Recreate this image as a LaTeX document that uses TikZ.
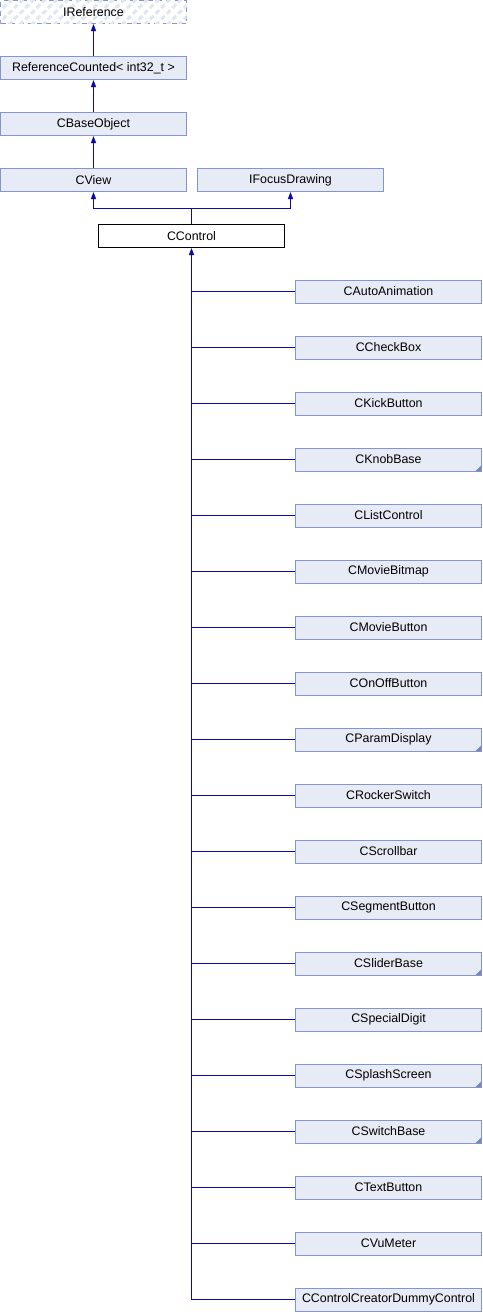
\documentclass[tikz,border=0pt]{standalone}
\usepackage{fontspec}
\setmainfont{Liberation Sans}
\usetikzlibrary{arrows.meta,patterns.meta}
\definecolor{boxfill}{HTML}{E7EBF5}
\definecolor{boxdraw}{HTML}{8496C8}
\definecolor{linkcol}{HTML}{0A0AAA}
\definecolor{cornercol}{HTML}{7088C4}
\definecolor{hatchcol}{HTML}{E0E6F2}
\tikzset{
  lbl/.style={font=\fontsize{12.4}{14}\selectfont},
  cls/.style={draw=boxdraw, fill=boxfill, line width=1pt, minimum width=186pt, minimum height=23pt, inner sep=0pt, lbl},
  current/.style={draw=black, fill=white, line width=1pt, minimum width=186pt, minimum height=23pt, inner sep=0pt, lbl},
  iface/.style={draw=boxdraw, dash pattern=on 5pt off 4pt, line width=1pt, fill=white, postaction={pattern={Lines[angle=45,distance=8pt,line width=3pt]}, pattern color=hatchcol}, minimum width=186pt, minimum height=23pt, inner sep=0pt},
  link/.style={draw=linkcol, line width=1.2pt},
  inh/.style={link, -{Triangle[width=5pt,length=7pt,fill=linkcol]}},
  more/.style={path picture={\fill[cornercol] (path picture bounding box.south east) -- ++(-6pt,0) -- ++(6pt,6pt) -- cycle;}}
}
\begin{document}
\begin{tikzpicture}[x=1pt,y=-1pt]
\useasboundingbox (0,0) rectangle (482,1312);
\coordinate (jn) at (191.5,208.5);
\coordinate (jl) at (93.5,208.5);
\coordinate (jr) at (290.5,208.5);
\node[iface] (iref) at (93.5,12) {};
\node[lbl] (ireft) at (93.5,12) {IReference};
\node[cls] (refc) at (93.5,68) {ReferenceCounted< int32\_t >};
\node[cls] (cbase) at (93.5,124) {CBaseObject};
\node[cls] (cview) at (93.5,180) {CView};
\node[cls] (ifocus) at (290.5,180) {IFocusDrawing};
\node[current] (cctrl) at (191.5,236) {CControl};
\foreach \name/\txt/\m [count=\k from 0] in {
  c0/CAutoAnimation/0, c1/CCheckBox/0, c2/CKickButton/0, c3/CKnobBase/1,
  c4/CListControl/0, c5/CMovieBitmap/0, c6/CMovieButton/0, c7/COnOffButton/0,
  c8/CParamDisplay/1, c9/CRockerSwitch/0, c10/CScrollbar/0, c11/CSegmentButton/0,
  c12/CSliderBase/1, c13/CSpecialDigit/0, c14/CSplashScreen/1, c15/CSwitchBase/1,
  c16/CTextButton/0, c17/CVuMeter/0, c18/CControlCreatorDummyControl/0} {
  \ifnum\m=1
    \node[cls, more] (\name) at (388.5,{291.5+56*\k}) {\txt};
  \else
    \node[cls] (\name) at (388.5,{291.5+56*\k}) {\txt};
  \fi
  \draw[link] (\name.west -| cctrl.south) -- (\name.west);
}
\draw[inh] (refc.north) -- (iref.south);
\draw[inh] (cbase.north) -- (refc.south);
\draw[inh] (cview.north) -- (cbase.south);
\draw[link] (cctrl.north) -- (jn);
\draw[inh] (jn) -- (jl) -- (cview.south);
\draw[inh] (jn) -- (jr) -- (ifocus.south);
\draw[inh] (c18.west -| cctrl.south) -- (cctrl.south);
\end{tikzpicture}
\end{document}
